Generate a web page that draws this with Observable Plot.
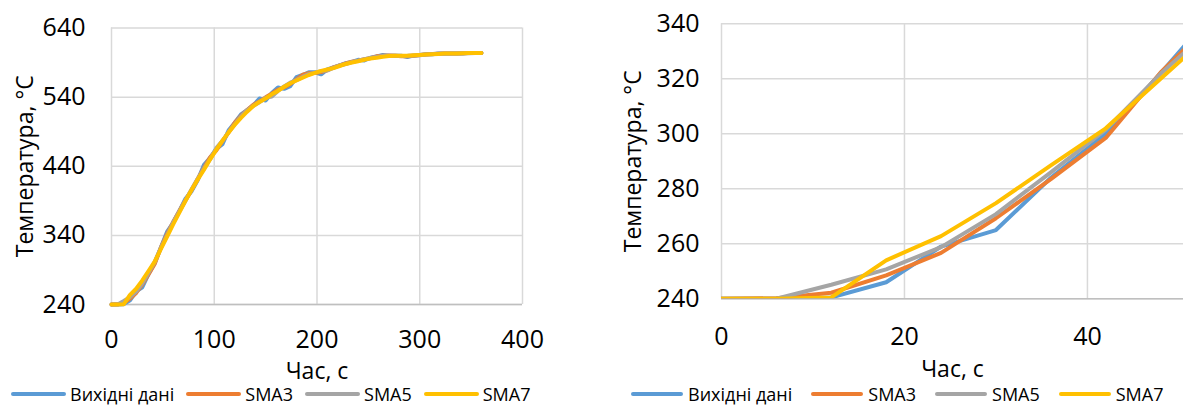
<!DOCTYPE html>
<html>
<head>
<meta charset="utf-8">
<script src="https://cdn.jsdelivr.net/npm/d3@7"></script>
<script src="https://cdn.jsdelivr.net/npm/@observablehq/plot@0.6"></script>
<style>
  html, body { margin: 0; padding: 0; background: #fff; overflow: hidden; }
  #wrap { position: relative; width: 1184px; height: 407px; overflow: hidden; font-family: "Open Sans", sans-serif; }
  .chart { position: absolute; top: 0; }
  .legend { position: absolute; top: 382px; display: flex; align-items: center; height: 24px; font-size: 18px; line-height: 24px; color: #000; white-space: nowrap; }
  .legend .item { display: flex; align-items: center; }
  .legend .sw { display: inline-block; height: 4.5px; border-radius: 2px; }
</style>
</head>
<body>
<div id="wrap"></div>
<script>
// ---- data ----
const seriesNames = ["Вихідні дані", "SMA3", "SMA5", "SMA7"];
const seriesColors = ["#5B9BD5", "#ED7D31", "#A5A5A5", "#FFC000"];

const time = [0,6,12,18,24,30,36,42,48,54,60,66,72,78,84,90,96,102,108,114,120,126,132,138,144,150,156,162,168,174,180,186,192,198,204,210,216,222,228,234,240,246,252,258,264,270,276,282,288,294,300,306,312,318,324,330,336,342,348,354,360];

const raw = [240,240,240.5,246,259,265,284,300,322,345,358,375,393,404,420,442,452,465,472,492,503,515,521,528,538,535,546,554,552,556,569,572,576,576,573,580,583,586,589,591,594,593,597,599,601,600,600,600,598,600,601,602,602,603,603,603,603,603,604,604,604];

const sma3 = [240,240.2,242.2,248.5,256.7,269.3,283.5,298.5,322.3,341.7,359.3,375.3,390.7,405.7,422,438,453,463,476.3,489,503.3,513,521.3,529,533.7,539.7,545,550.7,554,559,565.7,572.3,574.7,575,576.3,578.7,583,586,588.7,591.3,592.7,594.7,596.3,599,600,600.3,600,599.3,599.3,599.7,601,601.7,602.3,602.7,603,603,603,603.3,603.7,604,604];

const sma5 = [240,240,245.1,250.7,258.8,270.8,286,301.5,321.8,339.6,358.6,374.4,390.4,406.8,422.2,436.6,450.2,466.2,476.8,489.4,500.6,511.8,521,527.4,532.6,539,541,549,555.4,561,564.6,569.2,573.2,575.4,577.6,578.6,582.2,585.8,587.8,590.6,592.8,594.8,596.8,598,599.4,600,600,599.6,599.8,600.2,600.6,601.6,602.2,602.6,602.8,603,603.2,603.4,603.6,604,604];

const sma7 = [240,240,240.5,254,262.8,274.8,288.5,302,320,338,356,373,390,406,421,435,450,464,477,489,500,510,519,527,533,538,544,549,555,560,564,568,572,575,578,580,582,585,588,590,592,594,596,597,598.5,599.5,600,600,600,600.5,601,601.5,602,602.5,603,603,603,603.5,604,604,604];

const leftXTicks = [0,100,200,300,400];
const leftYTicks = [240,340,440,540,640];
const rightXTicks = [0,20,40];
const rightYTicks = [240,260,280,300,320,340];

const xTitle = "Час, с";
const yTitle = "Температура, °С";

// ---- build long table ----
const seriesValues = [raw, sma3, sma5, sma7];
const rows = seriesNames.flatMap((s, k) => time.map((t, i) => ({t, v: seriesValues[k][i], s})));

function makeChart(cfg) {
  return Plot.plot({
    width: cfg.width,
    height: 407,
    marginLeft: cfg.ml, marginRight: cfg.mr, marginTop: cfg.mt, marginBottom: cfg.mb,
    style: {fontFamily: "Open Sans", fontSize: "25px", color: "#000", background: "transparent", overflow: "visible"},
    x: {domain: cfg.xDomain},
    y: {domain: cfg.yDomain},
    color: {domain: seriesNames, range: seriesColors},
    marks: [
      Plot.gridX({ticks: cfg.xTicks, stroke: "#D9D9D9", strokeOpacity: 1, strokeWidth: 1.5}),
      Plot.gridY({ticks: cfg.yTicks, stroke: "#D9D9D9", strokeOpacity: 1, strokeWidth: 1.5}),
      Plot.ruleY([cfg.yDomain[0]], {stroke: "#BFBFBF", strokeWidth: 1.5}),
      Plot.axisX({ticks: cfg.xTicks, tickSize: 0, tickPadding: cfg.xPad, fontSize: 25, label: null}),
      Plot.axisY({ticks: cfg.yTicks, tickSize: 0, tickPadding: cfg.yPad, fontSize: 25, label: null}),
      Plot.line(rows, {x: "t", y: "v", z: "s", stroke: "s", strokeWidth: 4, strokeLinejoin: "round", strokeLinecap: "round", clip: cfg.clip}),
      Plot.text([xTitle], {text: d => d, frameAnchor: "bottom", textAnchor: "middle", lineAnchor: "top", dy: cfg.xTitleDy, fontSize: 23}),
      Plot.text([yTitle], {text: d => d, frameAnchor: "left", textAnchor: "middle", lineAnchor: "middle", rotate: -90, dx: cfg.yTitleDx, fontSize: 23})
    ]
  });
}

const wrap = document.getElementById("wrap");

const left = makeChart({width: 560, ml: 111, mr: 38, mt: 27.5, mb: 103,
  xDomain: [0, 400], yDomain: [240, 640], xTicks: leftXTicks, yTicks: leftYTicks,
  xPad: 26, yPad: 26, xTitleDy: 58, yTitleDx: -86, clip: false});
left.classList.add("chart");
left.style.left = "0px";
wrap.appendChild(left);

const right = makeChart({width: 594, ml: 131, mr: 1, mt: 23.3, mb: 108.7,
  xDomain: [0, 50.5], yDomain: [240, 340], xTicks: rightXTicks, yTicks: rightYTicks,
  xPad: 28, yPad: 22, xTitleDy: 62, yTitleDx: -88, clip: true});
right.classList.add("chart");
right.style.left = "590px";
wrap.appendChild(right);

function makeLegend(x, swW, swGap, itemGap) {
  const lg = document.createElement("div");
  lg.className = "legend";
  lg.style.left = x + "px";
  lg.style.gap = itemGap + "px";
  seriesNames.forEach((name, i) => {
    const it = document.createElement("div");
    it.className = "item";
    it.style.gap = swGap + "px";
    const sw = document.createElement("span");
    sw.className = "sw";
    sw.style.width = swW + "px";
    sw.style.background = seriesColors[i];
    const tx = document.createElement("span");
    tx.textContent = name;
    it.appendChild(sw);
    it.appendChild(tx);
    lg.appendChild(it);
  });
  wrap.appendChild(lg);
}
makeLegend(11, 55, 4, 12);
makeLegend(631, 52, 5, 19);
</script>
</body>
</html>
